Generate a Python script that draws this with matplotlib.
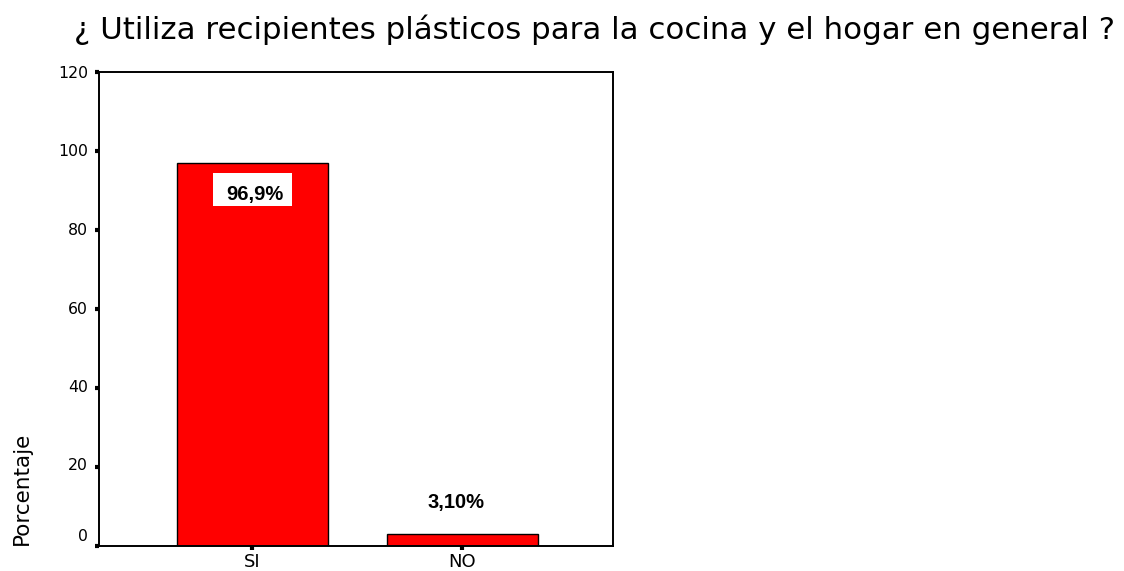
import matplotlib
matplotlib.use("Agg")
import matplotlib.pyplot as plt
from matplotlib.patches import Rectangle
from matplotlib.transforms import ScaledTranslation

categories = ["SI", "NO"]
values = [96.9, 3.1]
value_labels = ["96,9%", "3,10%"]
y_ticks = [0, 20, 40, 60, 80, 100, 120]

plt.rcParams['font.family'] = ['DejaVu Sans']

fig = plt.figure(figsize=(11.24, 5.71), dpi=100)
ax = fig.add_axes([99 / 1124, 25 / 571, 514 / 1124, 474 / 571])

x = list(range(len(categories)))
ax.bar(x, values, width=0.72, color="#ff0000", edgecolor="black", linewidth=1.0)

ax.set_xlim(-0.731, 1.717)
ax.set_ylim(0, 120)
ax.set_yticks(y_ticks)
ax.set_yticklabels([str(t) for t in y_ticks])
ax.set_xticks(x)
ax.set_xticklabels(categories)

for s in ax.spines.values():
    s.set_linewidth(1.4)
    s.set_color("black")

ax.tick_params(axis="y", direction="out", length=3, width=3, labelsize=11.3, pad=5)
ax.tick_params(axis="x", direction="out", length=3, width=3, labelsize=13, pad=2)

# y tick labels: the zero label is lifted clear of the baseline
for t, lab in zip(y_ticks, ax.get_yticklabels()):
    dy_px = 11 if t == 0 else (120 - t) / 120 * 3
    lab.set_transform(lab.get_transform() + ScaledTranslation(0, dy_px / 100, fig.dpi_scale_trans))

bold = dict(family=['Liberation Sans', 'DejaVu Sans'], fontweight="bold", fontsize=14.5)

# white label box inside the tall bar
box_w, box_h = 0.376, 8.35
ax.add_patch(Rectangle((x[0] - box_w / 2, values[0] - 10.8), box_w, box_h,
                       facecolor="white", edgecolor="none", zorder=3))
ax.text(x[0] + 0.15, values[0] - 7.8, value_labels[0], ha="right", va="center",
        zorder=4, **bold)
ax.text(x[1] - 0.031, values[1] + 7.8, value_labels[1], ha="center", va="center", **bold)

fig.text(22 / 1124, 1 - 545 / 571, "Porcentaje", rotation=90, ha="center", va="bottom",
         fontsize=15.5)

fig.text(595 / 1124, 1 - 30 / 571,
         "¿ Utiliza recipientes plásticos para la cocina y el hogar en general ?",
         ha="center", va="center", fontsize=22.2)

fig.savefig("out.png", dpi=100, facecolor="white")
